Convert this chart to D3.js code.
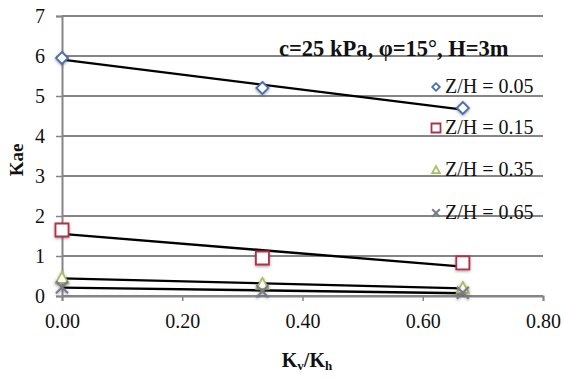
<!DOCTYPE html>
<html>
<head>
<meta charset="utf-8">
<script src="https://cdn.jsdelivr.net/npm/d3@7"></script>
<style>
  html, body { margin: 0; padding: 0; background: #fff; }
  svg { display: block; }
  text { font-family: "Liberation Serif", "Times New Roman", serif; fill: #111; }
</style>
</head>
<body>
<svg id="chart" width="564" height="381"></svg>
<script>
// Kv/Kh ratios
const ratios = [0, 1/3, 2/3];
// Kae for each depth ratio Z/H
const kae005 = [5.95, 5.20, 4.70];
const kae015 = [1.65, 0.95, 0.83];
const kae035 = [0.45, 0.30, 0.20];
const kae065 = [0.22, 0.12, 0.08];
const seriesNames = ["Z/H = 0.05", "Z/H = 0.15", "Z/H = 0.35", "Z/H = 0.65"];
const xTicks = [0, 0.2, 0.4, 0.6, 0.8];
const yTicks = [0, 1, 2, 3, 4, 5, 6, 7];
const titleText = "c=25 kPa, \u03c6=15\u00b0, H=3m";

const series = [
  { name: seriesNames[0], values: kae005, shape: "diamond", color: "#4a6fb0" },
  { name: seriesNames[1], values: kae015, shape: "square", color: "#b0304a" },
  { name: seriesNames[2], values: kae035, shape: "triangle", color: "#a8c060" },
  { name: seriesNames[3], values: kae065, shape: "cross", color: "#7a7a8a" }
];

const svg = d3.select("#chart");
const x = d3.scaleLinear().domain([0, 0.8]).range([62, 543]);
const y = d3.scaleLinear().domain([0, 7]).range([296, 16]);

// horizontal gridlines
svg.append("g").selectAll("line").data(yTicks).join("line")
  .attr("x1", x(0)).attr("x2", x(0.8))
  .attr("y1", d => y(d)).attr("y2", d => y(d))
  .attr("stroke", "#858585").attr("stroke-width", 2);

// y axis
const yAxis = svg.append("g").attr("transform", `translate(${x(0)},0)`)
  .call(d3.axisLeft(y).tickValues(yTicks).tickFormat(d3.format("d")).tickSize(6).tickPadding(11));
yAxis.select(".domain").attr("stroke", "#858585").attr("stroke-width", 2);
yAxis.selectAll(".tick line").attr("stroke", "#858585").attr("stroke-width", 1.5);
yAxis.selectAll(".tick text").attr("font-size", 20).attr("font-family", "Liberation Serif").attr("fill", "#222");

// x axis
const xAxis = svg.append("g").attr("transform", `translate(0,${y(0)})`)
  .call(d3.axisBottom(x).tickValues(xTicks).tickFormat(d3.format(".2f")).tickSize(5).tickPadding(13));
xAxis.select(".domain").attr("stroke", "#858585").attr("stroke-width", 2);
xAxis.selectAll(".tick line").attr("stroke", "#858585").attr("stroke-width", 1.5);
xAxis.selectAll(".tick text").attr("font-size", 20).attr("font-family", "Liberation Serif").attr("fill", "#222");

// linear trendline for each series (least squares)
function fit(xs, ys) {
  const mx = d3.mean(xs), my = d3.mean(ys);
  const num = d3.sum(xs, (v, i) => (v - mx) * (ys[i] - my));
  const den = d3.sum(xs, v => (v - mx) * (v - mx));
  const b = num / den;
  return { a: my - b * mx, b };
}
const line = d3.line().x(d => x(d[0])).y(d => y(d[1]));
series.forEach(s => {
  const f = fit(ratios, s.values);
  const ends = [ratios[0], ratios[ratios.length - 1]].map(r => [r, f.a + f.b * r]);
  svg.append("path").attr("d", line(ends))
    .attr("fill", "none").attr("stroke", "#000").attr("stroke-width", 2.4);
});

// soft shadow under markers
const defs = svg.append("defs");
const flt = defs.append("filter").attr("id", "shadow").attr("x", "-100%").attr("y", "-100%")
  .attr("width", "300%").attr("height", "300%");
flt.append("feDropShadow").attr("dx", 0).attr("dy", 1).attr("stdDeviation", 1.8)
  .attr("flood-color", "#444").attr("flood-opacity", 0.55);

// marker outline of half-size r
function shapePath(shape, r) {
  const p = d3.path();
  if (shape === "diamond") {
    p.moveTo(0, -r); p.lineTo(r, 0); p.lineTo(0, r); p.lineTo(-r, 0); p.closePath();
  } else if (shape === "square") {
    p.rect(-r, -r, 2 * r, 2 * r);
  } else if (shape === "triangle") {
    p.moveTo(0, -r); p.lineTo(r, r * 0.8); p.lineTo(-r, r * 0.8); p.closePath();
  } else {
    p.moveTo(-r, -r); p.lineTo(r, r); p.moveTo(r, -r); p.lineTo(-r, r);
  }
  return p.toString();
}
function marker(g, shape, color, r) {
  return g.append("path").attr("d", shapePath(shape, r))
    .attr("fill", shape === "cross" ? "none" : "#fff")
    .attr("stroke", color).attr("stroke-width", shape === "cross" ? 2 : 1.8);
}

series.forEach(s => {
  ratios.forEach((r, i) => {
    const g = svg.append("g").attr("transform", `translate(${x(r)},${y(s.values[i])})`)
      .attr("filter", "url(#shadow)");
    marker(g, s.shape, s.color, s.shape === "square" ? 6.5 : 6);
  });
});

// title inside plot
svg.append("text").attr("x", 279).attr("y", 56)
  .attr("font-size", 22.5).attr("font-weight", "bold").text(titleText);

// legend
const legendY = [93, 134, 176, 219];
series.forEach((s, i) => {
  const g = svg.append("g").attr("transform", `translate(436,${legendY[i] - 6})`);
  marker(g, s.shape, s.color, s.shape === "square" ? 4.5 : 3.8);
  svg.append("text").attr("x", 445).attr("y", legendY[i])
    .attr("font-size", 20).attr("fill", "#222").text(s.name);
});

// axis titles
svg.append("text").attr("transform", "translate(23,160) rotate(-90)")
  .attr("text-anchor", "middle").attr("font-size", 19).attr("font-weight", "bold").text("Kae");

const xl = svg.append("text").attr("x", 307).attr("y", 367)
  .attr("text-anchor", "middle").attr("font-size", 20).attr("font-weight", "bold");
xl.append("tspan").text("K");
xl.append("tspan").attr("font-size", 13).attr("dy", 3).text("v");
xl.append("tspan").attr("dy", -3).text("/K");
xl.append("tspan").attr("font-size", 13).attr("dy", 3).text("h");
</script>
</body>
</html>
